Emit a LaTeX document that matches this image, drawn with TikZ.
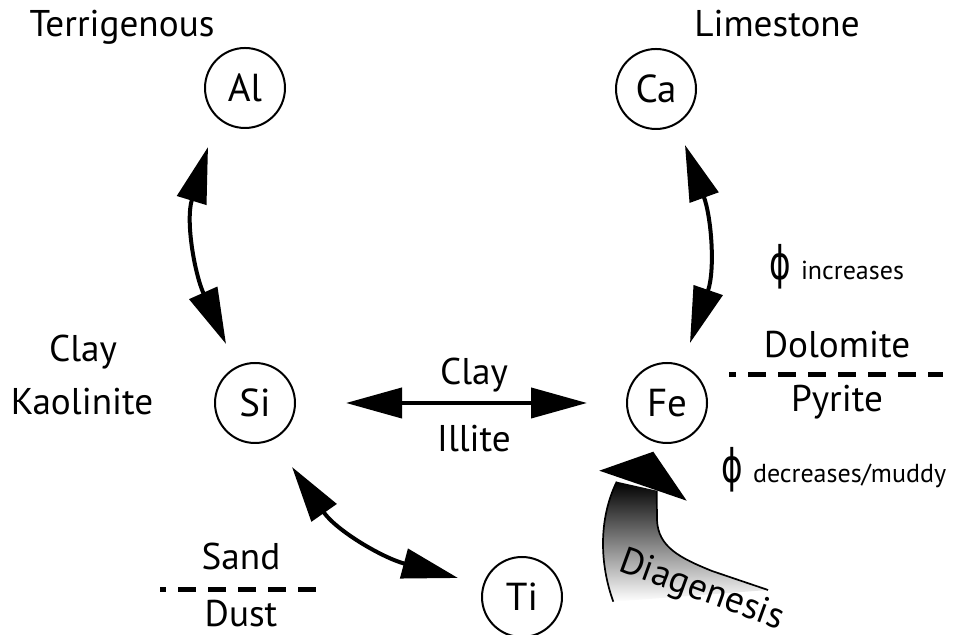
\documentclass[tikz,border=0pt]{standalone}
\usepackage{fontspec}
\usepackage{graphicx}
\setmainfont{PT Sans}
\newfontfamily\phifont{DejaVu Sans}
\usetikzlibrary{arrows.meta}
\newcommand{\por}{{\phifont\fontsize{21}{22}\selectfont\scalebox{0.78}[1.1]{ϕ}}}

\begin{document}
\begin{tikzpicture}[x=0.5pt,y=0.5pt,
  elem/.style={draw,circle,line width=1pt,minimum size=40pt,inner sep=0pt,font=\fontsize{19.5}{22}\selectfont},
  lbl/.style={anchor=base,inner sep=0pt,font=\fontsize{18.6}{22}\selectfont},
  small/.style={anchor=base west,inner sep=0pt,font=\fontsize{13}{15}\selectfont},
  dbl/.style={line width=2pt,{Triangle[length=28pt,width=15pt]}-{Triangle[length=28pt,width=15pt]}},
  sep/.style={line width=2.5pt,dash pattern=on 9pt off 6pt}]
\useasboundingbox (0,0) rectangle (957,635);

% diagenesis arrow
\shade[top color=black,middle color=black!62,bottom color=white] (616.7,153.3) -- (656.7,144.3) -- (657,115)
  .. controls (658,88) and (680,77) .. (712,64) -- (768,45) -- (613.3,33.3)
  .. controls (600,70) and (598,115) .. (616.7,153.3) -- cycle;
\draw[line width=0.85pt] (616.7,153.3) .. controls (598,115) and (600,70) .. (613.3,33.3);
\draw[line width=0.85pt] (656.7,144.3) -- (657,115) .. controls (658,88) and (680,77) .. (712,64) -- (768,45);
\fill (653.3,183.3) -- (686.7,134.3) -- (599.3,164.3) -- cycle;
\node[lbl,rotate=-20] (diag) at (698,35) {Diagenesis};

\node[elem] (Al) at (245,547) {Al};
\node[elem] (Ca) at (656,546) {Ca};
\node[elem] (Si) at (255,232) {Si};
\node[elem] (Fe) at (667,232) {Fe};
\node[elem] (Ti) at (522,38) {Ti};

\draw[dbl] ([shift={(-37,-59)}]Al.center) to[out=253,in=114] ([shift={(-29,59)}]Si.center);
\draw[dbl] ([shift={(29,-56)}]Ca.center) to[out=290,in=71] ([shift={(23,60)}]Fe.center);
\draw[dbl] ([shift={(37,-64)}]Si.center) to[out=305,in=165] ([shift={(-64,19)}]Ti.center);
\draw[dbl,shorten <=25pt,shorten >=19.5pt] (Si) -- (Fe);

\node[lbl] (terr) at (122,598) {Terrigenous};
\node[lbl] (lime) at (777,598) {Limestone};
\node[lbl] (clayL) at (83,273) {Clay};
\node[lbl] (kaol) at (82,220) {Kaolinite};
\node[lbl] (clayM) at (474,250) {Clay};
\node[lbl] (illite) at (474,183) {Illite};
\node[lbl] (dolo) at (837,277) {Dolomite};
\node[lbl] (pyr) at (837,223) {Pyrite};
\node[lbl] (sand) at (241,65) {Sand};
\node[lbl] (dust) at (241,8) {Dust};
\draw[sep,dash phase=5.5pt] (729,260) -- (943,260);
\draw[sep,dash phase=6pt] (160,45) -- (323,45);

\node[small] (inc) at (769,355) {\por\hspace{5pt}increases};
\node[small] (dec) at (721,152) {\por\hspace{5pt}decreases/muddy};

\end{tikzpicture}
\end{document}
